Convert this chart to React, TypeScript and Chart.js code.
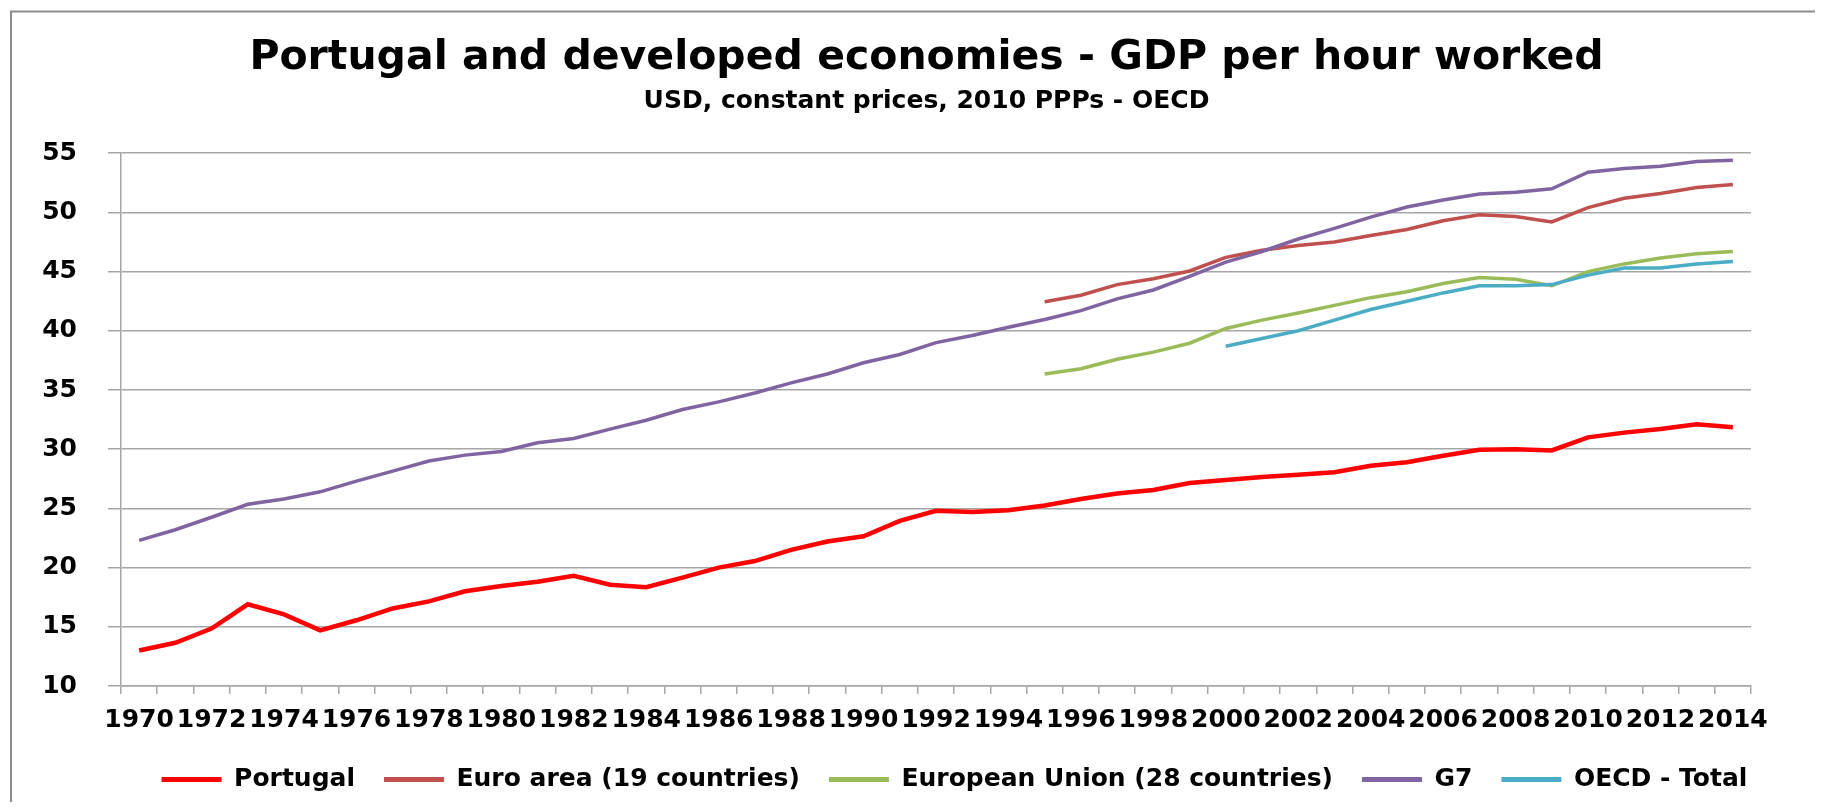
import React, { useEffect, useRef } from 'react';
import { Chart, registerables } from 'chart.js';

Chart.register(...registerables);

// ---- Data -------------------------------------------------------------
const years: string[] = [
  '1970', '1971', '1972', '1973', '1974', '1975', '1976', '1977', '1978', '1979',
  '1980', '1981', '1982', '1983', '1984', '1985', '1986', '1987', '1988', '1989',
  '1990', '1991', '1992', '1993', '1994', '1995', '1996', '1997', '1998', '1999',
  '2000', '2001', '2002', '2003', '2004', '2005', '2006', '2007', '2008', '2009',
  '2010', '2011', '2012', '2013', '2014',
];

// Portugal, 1970-2014
const portugal: number[] = [
  13.0, 13.65, 14.85, 16.9, 16.05, 14.7, 15.55, 16.55, 17.15, 18.0,
  18.45, 18.8, 19.3, 18.55, 18.35, 19.15, 20.0, 20.55, 21.5, 22.2,
  22.65, 23.95, 24.8, 24.7, 24.85, 25.25, 25.8, 26.25, 26.55, 27.15,
  27.4, 27.65, 27.85, 28.05, 28.6, 28.9, 29.45, 29.95, 30.0, 29.9,
  31.0, 31.4, 31.7, 32.1, 31.85,
];

// Euro area (19 countries), 1995-2014
const euroAreaStart = '1995';
const euroArea: number[] = [
  42.45, 43.0, 43.9, 44.4, 45.05, 46.2, 46.8, 47.2, 47.5, 48.05,
  48.55, 49.3, 49.8, 49.65, 49.2, 50.4, 51.2, 51.6, 52.1, 52.35,
];

// European Union (28 countries), 1995-2014
const euStart = '1995';
const eu28: number[] = [
  36.35, 36.8, 37.6, 38.2, 38.95, 40.2, 40.9, 41.5, 42.15, 42.8,
  43.3, 44.0, 44.5, 44.35, 43.8, 45.0, 45.65, 46.15, 46.5, 46.7,
];

// G7, 1970-2014
const g7: number[] = [
  22.3, 23.2, 24.25, 25.35, 25.8, 26.4, 27.3, 28.15, 29.0, 29.5,
  29.8, 30.55, 30.9, 31.7, 32.45, 33.35, 34.0, 34.75, 35.6, 36.35,
  37.3, 38.0, 39.0, 39.6, 40.3, 40.95, 41.7, 42.7, 43.45, 44.6,
  45.8, 46.7, 47.75, 48.65, 49.6, 50.45, 51.05, 51.55, 51.7, 52.0,
  53.4, 53.7, 53.9, 54.3, 54.4,
];

// OECD - Total, 2000-2014
const oecdStart = '2000';
const oecd: number[] = [
  38.7, 39.35, 40.0, 40.9, 41.8, 42.5, 43.2, 43.8, 43.8, 43.9,
  44.7, 45.3, 45.3, 45.65, 45.85,
];

const seriesNames = [
  'Portugal',
  'Euro area (19 countries)',
  'European Union (28 countries)',
  'G7',
  'OECD - Total',
];
const seriesColors = ['#FF0000', '#C0504D', '#9BBB59', '#8064A2', '#4BACC6'];

const yTicks = { min: 10, max: 55, step: 5 };

const titleText = 'Portugal and developed economies - GDP per hour worked';
const subtitleText = 'USD, constant prices, 2010 PPPs - OECD';

// ---- Styling ----------------------------------------------------------
const FONT = "'DejaVu Sans', sans-serif";
const GRID = '#a6a6a6';
const W = 1807;
const H = 794;
const LEGEND_SHIFT = 28;

const padFrom = (start: string, vals: number[]): (number | null)[] => {
  const s = years.indexOf(start);
  return years.map((_, k) => (k < s ? null : vals[k - s] ?? null));
};

const borderPlugin = {
  id: 'chartBorder',
  beforeDraw(chart: any) {
    const ctx = chart.ctx as CanvasRenderingContext2D;
    ctx.save();
    ctx.fillStyle = '#ffffff';
    ctx.fillRect(0, 0, chart.width, chart.height);
    ctx.strokeStyle = '#8c8c8c';
    ctx.lineWidth = 2;
    ctx.beginPath();
    ctx.moveTo(3, chart.height + 5);
    ctx.lineTo(3, 3.5);
    ctx.lineTo(chart.width + 5, 3.5);
    ctx.stroke();
    ctx.restore();
  },
};

// nudges the (Excel-style, off-centre) legend a little to the right
const legendShiftPlugin = {
  id: 'legendShift',
  afterLayout(chart: any) {
    const lg = chart.legend;
    if (lg) {
      lg.left += LEGEND_SHIFT;
      lg.right += LEGEND_SHIFT;
    }
  },
};

export default function App() {
  const ref = useRef<HTMLCanvasElement>(null);

  useEffect(() => {
    if (!ref.current) return;
    const seriesData = [
      padFrom('1970', portugal),
      padFrom(euroAreaStart, euroArea),
      padFrom(euStart, eu28),
      padFrom('1970', g7),
      padFrom(oecdStart, oecd),
    ];
    const widths = [4.5, 3.5, 3.5, 3.5, 3.5];

    const chart = new Chart(ref.current, {
      type: 'line',
      data: {
        labels: years,
        datasets: seriesNames.map((name, i) => ({
          label: name,
          data: seriesData[i],
          borderColor: seriesColors[i],
          backgroundColor: seriesColors[i],
          borderWidth: widths[i],
          pointRadius: 0,
          tension: 0,
          fill: false,
          yAxisID: 'y',
          order: seriesNames.length - i,
        })),
      },
      options: {
        responsive: false,
        animation: false,
        devicePixelRatio: 1,
        layout: { padding: { top: 12, left: 30, right: 0, bottom: 0 } },
        plugins: {
          title: {
            display: true,
            text: titleText,
            color: '#000',
            font: { family: FONT, size: 41, weight: 'bold' },
            padding: { top: 14, bottom: 3 },
          },
          subtitle: {
            display: true,
            text: subtitleText,
            color: '#000',
            font: { family: FONT, size: 25, weight: 'bold' },
            padding: { top: 0, bottom: 37 },
          },
          legend: {
            position: 'bottom',
            labels: {
              boxWidth: 60,
              boxHeight: 5,
              padding: 29,
              color: '#000',
              font: { family: FONT, size: 25, weight: 'bold' },
              generateLabels: (c: any) =>
                c.data.datasets.map((ds: any, i: number) => ({
                  text: ds.label,
                  fillStyle: ds.borderColor,
                  strokeStyle: ds.borderColor,
                  lineWidth: 0,
                  hidden: false,
                  datasetIndex: i,
                  fontColor: '#000',
                })),
              sort: (a: any, b: any) => a.datasetIndex - b.datasetIndex,
            },
          },
          tooltip: { enabled: false },
        },
        scales: {
          x: {
            type: 'category',
            offset: true,
            grid: {
              offset: true,
              drawOnChartArea: false,
              drawTicks: true,
              tickLength: 8,
              color: GRID,
              lineWidth: 1.5,
            },
            border: { color: GRID, width: 1.5 },
            ticks: {
              autoSkip: false,
              maxRotation: 0,
              minRotation: 0,
              padding: 11,
              color: '#000',
              font: { family: FONT, size: 25, weight: 'bold' },
              callback: (_v: any, i: number) => (i % 2 === 0 ? years[i] : ''),
            },
            afterFit: (s: any) => {
              s.height = 52;
            },
          },
          y: {
            position: 'left',
            min: yTicks.min,
            max: yTicks.max,
            ticks: {
              stepSize: yTicks.step,
              padding: 31,
              color: '#000',
              font: { family: FONT, size: 25, weight: 'bold' },
            },
            grid: { color: GRID, lineWidth: 1.5, tickLength: 13 },
            border: { color: GRID, width: 1.5 },
            afterFit: (s: any) => {
              s.width = 83;
            },
          },
          yRight: {
            type: 'linear',
            position: 'right',
            display: true,
            grid: { display: false, drawTicks: false },
            border: { display: false },
            ticks: { display: false },
            afterFit: (s: any) => {
              s.width = 64;
            },
          },
        },
      } as any,
      plugins: [borderPlugin, legendShiftPlugin],
    });
    return () => chart.destroy();
  }, []);

  return (
    <div style={{ width: W, height: H }}>
      <canvas ref={ref} width={W} height={H} style={{ display: 'block', width: W, height: H }} />
    </div>
  );
}
